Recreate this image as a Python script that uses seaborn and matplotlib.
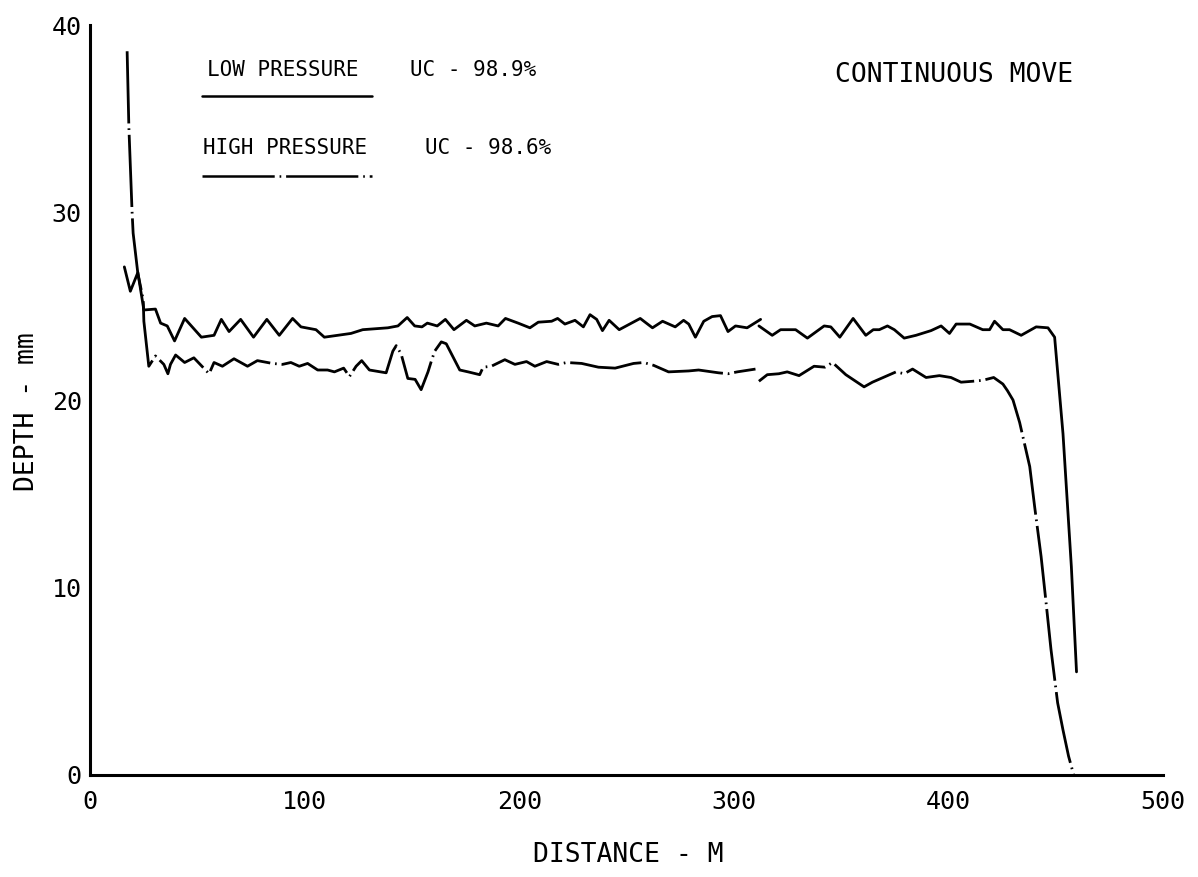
import matplotlib
matplotlib.use("Agg")
import matplotlib.pyplot as plt
from matplotlib.lines import Line2D
import pandas as pd
import seaborn as sns

# Low pressure (solid) - two recorded segments
low_x1 = [16.0, 18.8, 22.3, 25.1, 30.5, 32.9, 36.0, 39.4, 44.1, 51.9, 57.8, 61.2, 64.8,
          70.2, 76.2, 82.4, 88.2, 94.4, 98.3, 105.3, 109.2, 121.6, 127.1, 138.8, 143.5,
          147.8, 151.3, 154.7, 157.2, 161.8, 165.6, 169.6, 175.4, 179.3, 184.7, 190.2,
          193.6, 199.5, 205.0, 208.9, 215.1, 217.9, 221.3, 226.0, 229.9, 233.0, 236.1,
          238.8, 241.9, 246.6, 256.4, 262.1, 266.8, 272.7, 276.6, 279.0, 282.1, 286.0,
          289.9, 293.8, 297.3, 300.8, 306.2, 312.5]
low_y1 = [27.1, 25.8, 26.8, 24.8, 24.85, 24.1, 23.95, 23.15, 24.35, 23.35, 23.45, 24.3, 23.65,
          24.3, 23.35, 24.3, 23.45, 24.35, 23.9, 23.75, 23.35, 23.55, 23.75, 23.85, 23.95,
          24.4, 23.95, 23.9, 24.1, 23.95, 24.3, 23.75, 24.25, 23.95, 24.1, 23.95,
          24.35, 24.1, 23.85, 24.15, 24.2, 24.35, 24.05, 24.25, 23.9, 24.55, 24.3,
          23.7, 24.25, 23.75, 24.35, 23.85, 24.2, 23.9, 24.25, 24.05, 23.35, 24.2,
          24.45, 24.5, 23.65, 23.95, 23.85, 24.3]
low_x2 = [311.7, 317.9, 321.8, 328.8, 334.3, 342.1, 345.2, 349.4, 355.6, 361.5, 365.0, 367.8,
          371.6, 374.8, 379.4, 384.9, 391.9, 396.6, 400.5, 403.6, 410.0, 416.0, 419.2, 421.5,
          425.4, 428.5, 433.9, 440.9, 446.4, 449.5, 453.4, 457.3, 459.7]
low_y2 = [23.95, 23.45, 23.75, 23.75, 23.3, 23.95, 23.9, 23.35, 24.35, 23.45, 23.75, 23.75,
          23.95, 23.75, 23.3, 23.45, 23.7, 23.95, 23.55, 24.05, 24.05, 23.75, 23.75, 24.2,
          23.75, 23.75, 23.45, 23.9, 23.85, 23.35, 18.2, 11.1, 5.5]

# High pressure (dash-dot) - two recorded segments
high_x1 = [17.3, 18.1, 19.6, 20.1, 22.3, 24.8, 25.1, 27.4, 30.5, 34.4, 36.3, 37.5, 39.9,
           44.1, 48.4, 55.5, 57.8, 61.7, 67.1, 73.4, 78.0, 85.0, 89.7, 93.6, 97.5, 101.4,
           106.1, 110.7, 113.9, 118.2, 120.9, 124.0, 126.6, 130.2, 138.0, 141.1, 142.7,
           145.0, 148.1, 151.5, 154.3, 157.5, 159.0, 160.6, 163.7, 166.0, 172.3, 176.2,
           181.6, 183.2, 187.0, 193.3, 198.0, 203.4, 207.3, 212.8, 218.2, 222.1, 229.1,
           236.9, 244.7, 253.3, 258.0, 262.6, 269.6, 279.0, 283.6, 292.9, 297.3, 301.6, 310.1]
high_y1 = [38.6, 34.6, 30.05, 28.9, 26.75, 25.35, 24.2, 21.8, 22.35, 21.9, 21.4, 21.9, 22.4,
           22.0, 22.25, 21.4, 22.0, 21.8, 22.2, 21.8, 22.1, 21.95, 21.9, 22.0, 21.8, 21.95,
           21.6, 21.6, 21.5, 21.7, 21.25, 21.8, 22.1, 21.6, 21.45, 22.6, 22.9,
           22.45, 21.15, 21.1, 20.55, 21.5, 22.05, 22.6, 23.1, 23.0, 21.6, 21.5,
           21.35, 21.75, 21.8, 22.15, 21.9, 22.05, 21.8, 22.05, 21.9, 22.0, 21.95,
           21.75, 21.7, 21.95, 22.0, 21.85, 21.5, 21.55, 21.6, 21.45, 21.4, 21.5, 21.65]
high_x2 = [311.7, 315.6, 321.0, 324.9, 330.4, 337.4, 342.5, 346.0, 352.2, 360.7, 364.6, 371.6,
           375.6, 379.4, 383.3, 389.6, 395.8, 401.2, 405.9, 411.4, 416.0, 421.1, 425.4, 427.5,
           430.1, 433.2, 437.9, 440.2, 443.2, 445.6, 447.8, 450.9, 453.4, 456.0, 458.4]
high_y2 = [21.0, 21.35, 21.4, 21.5, 21.3, 21.8, 21.75, 22.0, 21.35, 20.7, 20.95, 21.3,
           21.5, 21.4, 21.65, 21.2, 21.3, 21.2, 20.95, 21.0, 21.05, 21.2, 20.85, 20.5,
           20.0, 18.8, 16.45, 14.3, 11.65, 9.1, 6.7, 3.85, 2.4, 1.0, 0.0]

x_ticks = [0, 100, 200, 300, 400, 500]
y_ticks = [0, 10, 20, 30, 40]


def segments(xs_list, ys_list):
    frames = []
    for i, (xs, ys) in enumerate(zip(xs_list, ys_list)):
        frames.append(pd.DataFrame({"x": xs, "y": ys, "seg": i}))
    return pd.concat(frames, ignore_index=True)


low_df = segments([low_x1, low_x2], [low_y1, low_y2])
high_df = segments([high_x1, high_x2], [high_y1, high_y2])

sns.set_theme(style="white")
plt.rcParams["font.family"] = ["DejaVu Sans Mono", "DejaVu Sans"]
plt.rcParams["lines.scale_dashes"] = False
plt.rcParams["text.color"] = "black"

W, H = 1198, 877
fig = plt.figure(figsize=(W / 100, H / 100), dpi=100)
ax = fig.add_axes([90 / W, 1 - 775 / H, (1163 - 90) / W, (775 - 25) / H])

dashdot = (0, (52, 3.5, 1.2, 3.5))
sns.lineplot(data=low_df, x="x", y="y", units="seg", estimator=None, sort=False,
             color="black", linewidth=2.0, ax=ax, clip_on=False)
sns.lineplot(data=high_df, x="x", y="y", units="seg", estimator=None, sort=False,
             color="black", linewidth=2.0, linestyle=dashdot, ax=ax, clip_on=False)

ax.set_xlim(0, 500)
ax.set_ylim(0, 40)
ax.set_xticks(x_ticks)
ax.set_yticks(y_ticks)
sns.despine(ax=ax)
for side in ["left", "bottom"]:
    ax.spines[side].set_linewidth(2.2)
    ax.spines[side].set_color("black")
ax.tick_params(axis="both", direction="inout", length=10, width=1.6, colors="black",
               labelsize=18)
ax.tick_params(axis="x", pad=6)
ax.tick_params(axis="y", pad=1)
ax.grid(False)

ax.set_xlabel("DISTANCE - M", fontsize=19, color="black")
ax.set_ylabel("DEPTH - mm", fontsize=19, color="black")
ax.xaxis.set_label_coords((628 - 90) / 1073, -(842 - 775) / 750)
ax.yaxis.set_label_coords((40 - 90) / 1073, (775 - 412) / 750)


# annotations in figure pixel positions
def fx(px):
    return px / W


def fy(py):
    return 1 - py / H


fig.text(fx(835), fy(75), "CONTINUOUS MOVE", fontsize=19, va="center", ha="left", color="black")
fig.text(fx(207), fy(70), "LOW PRESSURE", fontsize=15, va="center", ha="left", color="black")
fig.text(fx(410), fy(70), "UC - 98.9%", fontsize=15, va="center", ha="left", color="black")
fig.text(fx(203), fy(148), "HIGH PRESSURE", fontsize=15, va="center", ha="left", color="black")
fig.text(fx(425), fy(148), "UC - 98.6%", fontsize=15, va="center", ha="left", color="black")

fig.add_artist(Line2D([fx(202), fx(372)], [fy(96), fy(96)], color="black", linewidth=1.8))
fig.add_artist(Line2D([fx(202), fx(372)], [fy(176), fy(176)], color="black", linewidth=1.8,
                      linestyle=dashdot))

fig.savefig("out.png", dpi=100)
